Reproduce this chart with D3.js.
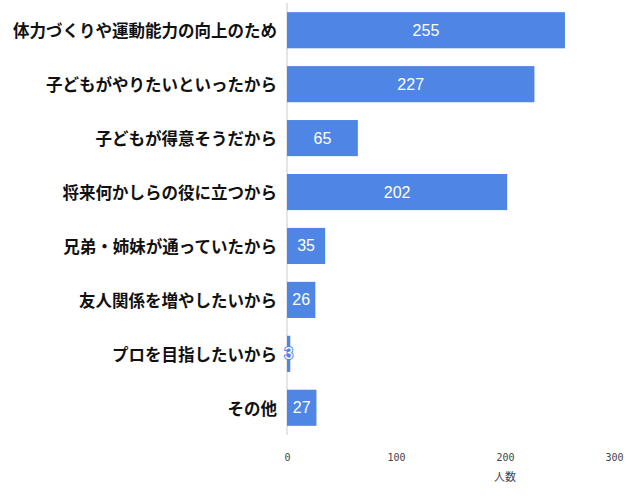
<!DOCTYPE html>
<html><head><meta charset="utf-8">
<script src="https://cdn.jsdelivr.net/npm/d3@7"></script>
<style>body{margin:0;background:#fff;font-family:"Noto Sans CJK JP",sans-serif}</style>
</head><body><svg id="c" width="640" height="498"></svg>
<script>
var categories = ['体力づくりや運動能力の向上のため','子どもがやりたいといったから','子どもが得意そうだから','将来何かしらの役に立つから','兄弟・姉妹が通っていたから','友人関係を増やしたいから','プロを目指したいから','その他'];
var values = [255, 227, 65, 202, 35, 26, 3, 27];
var ticks = [0, 100, 200, 300];

var svg = d3.select('#c'),
    x = d3.scaleLinear().domain([0, 300]).range([287, 614]),
    y = d3.scaleBand().domain(categories).range([3, 435]).paddingInner(0.33).paddingOuter(0.17);

svg.append('line').attr('x1', x(0)).attr('x2', x(0)).attr('y1', 3).attr('y2', 435)
  .attr('stroke', '#ccc');

svg.selectAll('rect.bar').data(values).enter().append('rect')
  .attr('x', x(0)).attr('y', function (d, i) { return y(categories[i]); })
  .attr('width', function (d) { return x(d) - x(0); })
  .attr('height', y.bandwidth()).attr('fill', '#4f86e6');

svg.selectAll('text.cat').data(categories).enter().append('text')
  .attr('x', 277).attr('y', function (d) { return y(d) + y.bandwidth() / 2; })
  .attr('text-anchor', 'end').attr('dominant-baseline', 'central')
  .attr('font-size', 16.5).attr('font-weight', 'bold').attr('fill', '#111').text(function (d) { return d; });

svg.selectAll('text.val').data(values).enter().append('text')
  .attr('x', function (d) { return (x(d) + x(0)) / 2; })
  .attr('y', function (d, i) { return y(categories[i]) + y.bandwidth() / 2; })
  .attr('text-anchor', 'middle').attr('dominant-baseline', 'central')
  .attr('font-family', 'Liberation Sans').attr('font-size', 16).attr('fill', '#fff')
  .attr('stroke', function (d) { return d < 10 ? '#4f86e6' : 'none'; }).attr('stroke-width', 2)
  .attr('paint-order', 'stroke').text(function (d) { return d; });

svg.append('g').attr('transform', 'translate(0,458)')
  .call(d3.axisBottom(x).tickValues(ticks).tickSize(0))
  .call(function (g) { g.select('.domain').remove(); })
  .selectAll('text').attr('font-size', 10).attr('fill', '#444').attr('font-family', 'DejaVu Sans Mono').attr('dy', 0);

svg.append('text').attr('x', 505).attr('y', 481).attr('text-anchor', 'middle')
  .attr('font-size', 11).attr('fill', '#444').text('人数');
</script></body></html>
